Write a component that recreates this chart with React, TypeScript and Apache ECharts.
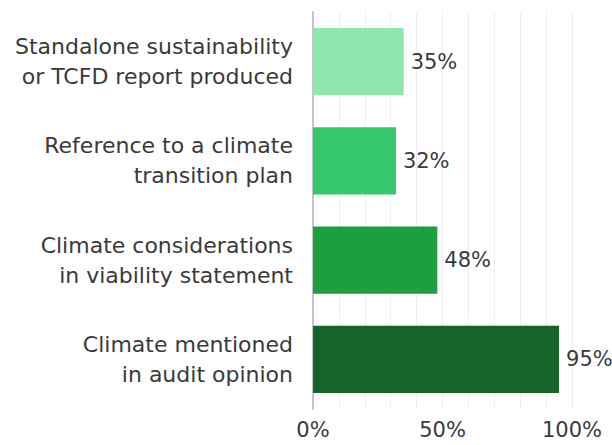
import React, { useEffect, useRef } from "react";
import * as echarts from "echarts";

const categories = [
  "Standalone sustainability\nor TCFD report produced",
  "Reference to a climate\ntransition plan",
  "Climate considerations\nin viability statement",
  "Climate mentioned\nin audit opinion",
];
const values = [35, 32, 48, 95];
const barColors = ["#8ee8ae", "#35c76a", "#1d9e3f", "#16632b"];

export default function App() {
  const ref = useRef<HTMLDivElement>(null);
  useEffect(() => {
    if (!ref.current) return;
    const chart = echarts.init(ref.current, null, { renderer: "svg" });
    const font = "'DejaVu Sans', sans-serif";
    chart.setOption({
      animation: false,
      grid: { left: 313, right: 40, top: 12, bottom: 36, containLabel: false },
      xAxis: {
        type: "value",
        min: 0,
        max: 100,
        interval: 10,
        axisLine: { show: false },
        axisTick: { show: false },
        splitLine: { show: true, lineStyle: { color: "#efeff3", width: 1 } },
        axisLabel: {
          formatter: (v: number) => (v % 50 === 0 ? v + "%" : ""),
          color: "#3a3a3a",
          fontSize: 21,
          fontFamily: font,
          margin: 10,
        },
      },
      yAxis: {
        type: "category",
        data: categories,
        inverse: true,
        axisLine: { show: true, lineStyle: { color: "#c4c4c8", width: 2 } },
        axisTick: { show: false },
        axisLabel: {
          color: "#3a3a3a",
          fontSize: 22,
          fontFamily: font,
          lineHeight: 30,
          margin: 20,
          align: "right",
        },
      },
      series: [
        {
          type: "bar",
          data: values.map((v, i) => ({ value: v, itemStyle: { color: barColors[i] } })),
          barWidth: "68%",
          label: {
            show: true,
            position: "right",
            formatter: "{c}%",
            color: "#3a3a3a",
            fontSize: 21,
            fontFamily: font,
            distance: 7,
          },
        },
      ],
    });
    return () => chart.dispose();
  }, []);
  return <div ref={ref} style={{ width: 612, height: 445, position: "absolute", left: 0, top: 0 }} />;
}
